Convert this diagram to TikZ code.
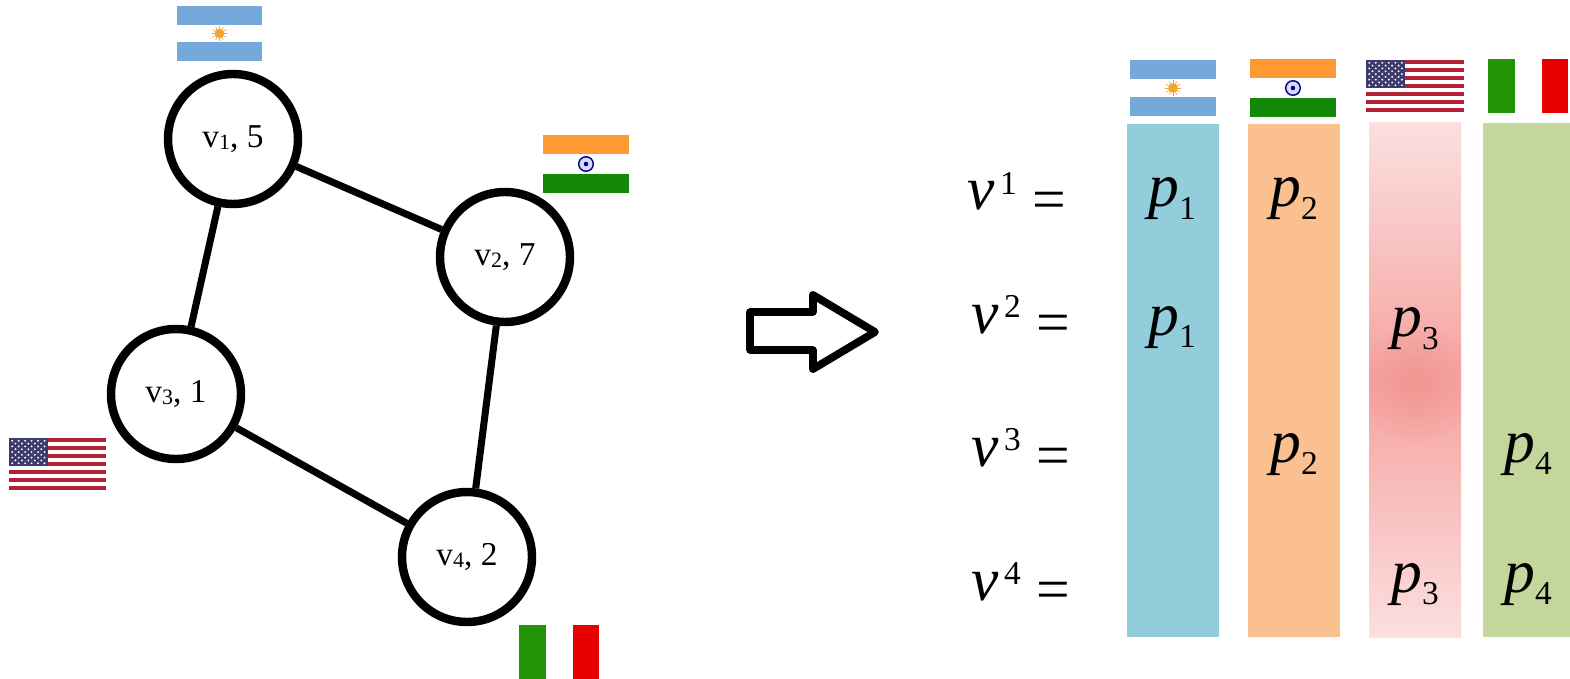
\documentclass[tikz,border=0pt]{standalone}
\usepackage{fontspec}
\setmainfont{Liberation Serif}
\usetikzlibrary{fadings}
\definecolor{arblue}{RGB}{117,169,219}
\definecolor{arsun}{RGB}{240,165,50}
\definecolor{insaffron}{RGB}{255,153,51}
\definecolor{ingreen}{RGB}{19,136,8}
\definecolor{usred}{RGB}{178,34,52}
\definecolor{usblue}{RGB}{60,59,110}
\definecolor{itgreen}{RGB}{34,148,5}
\definecolor{itred}{RGB}{230,0,0}
\definecolor{colblue}{RGB}{146,205,220}
\definecolor{colorange}{RGB}{250,192,144}
\definecolor{colgreen}{RGB}{195,214,155}
\definecolor{colpale}{RGB}{251,223,223}
\definecolor{colred}{RGB}{245,163,160}
\definecolor{colcore}{RGB}{242,150,146}
\tikzfading[name=softdisc,inner color=transparent!0,outer color=transparent!100]
\tikzset{
  vertex/.style={draw,circle,line width=4.8pt,minimum size=2.6cm,inner sep=0pt},
  link/.style={line width=4pt},
  vlabel/.style={inner sep=0pt,anchor=base west,font=\fontsize{35}{40}\selectfont},
}
\newcommand{\vname}[2]{\fontsize{19}{23}\selectfont v\raisebox{-1pt}{\fontsize{12.5}{15}\selectfont #1}, #2}
\newcommand{\pname}[1]{\textit{p}\raisebox{-7pt}{\fontsize{19}{23}\selectfont #1}}
\newcommand{\rowname}[1]{\textit{v}\raisebox{9pt}{\fontsize{19}{23}\selectfont\,#1}\hspace{9pt}\raisebox{-5.5pt}{\fontsize{34}{40}\selectfont =}}
% x, y, width, height of the flag
\newcommand{\flagar}[4]{\begin{scope}[shift={(#1,#2)},x=#3*0.02cm,y=-#4*0.02cm]
  \fill[arblue] (0,0) rectangle (1,0.34);
  \fill[arblue] (0,0.66) rectangle (1,1);
  \fill[arsun] (0.5,0.5) circle (0.055 and 0.085);
  \foreach \a in {0,30,...,330}
    \draw[arsun,line width=0.4pt] (0.5,0.5)--++({0.09*cos(\a)},{0.135*sin(\a)});
\end{scope}}
\newcommand{\flagin}[4]{\begin{scope}[shift={(#1,#2)},x=#3*0.02cm,y=-#4*0.02cm]
  \fill[insaffron] (0,0) rectangle (1,0.33);
  \fill[ingreen] (0,0.67) rectangle (1,1);
  \draw[blue!50!black,fill=blue!15,line width=0.8pt] (0.5,0.5) circle (0.085 and 0.125);
  \fill[blue!50!black] (0.5,0.5) circle (0.025 and 0.04);
\end{scope}}
\newcommand{\flagus}[4]{\begin{scope}[shift={(#1,#2)},x=#3*0.02cm,y=-#4*0.02cm]
  \foreach \i in {0,...,6}
    \fill[usred] (0,\i*2/13) rectangle (1,\i*2/13+1/13);
  \fill[usblue] (0,0) rectangle (0.4,7/13);
  \foreach \r in {1,3,5,7,9} \foreach \c in {1,3,5,7,9,11}
    \fill[white] (\c*0.0333,\r*0.054) circle (0.011 and 0.02);
  \foreach \r in {2,4,6,8} \foreach \c in {2,4,6,8,10}
    \fill[white] (\c*0.0333,\r*0.054) circle (0.011 and 0.02);
\end{scope}}
\newcommand{\flagit}[4]{\begin{scope}[shift={(#1,#2)},x=#3*0.02cm,y=-#4*0.02cm]
  \fill[itgreen] (0,0) rectangle (0.34,1);
  \fill[itred] (0.67,0) rectangle (1,1);
\end{scope}}

\begin{document}
\begin{tikzpicture}[x=0.02cm,y=-0.02cm]
  \useasboundingbox (0,0) rectangle (1570,679);
  % graph
  \node[vertex] (v1) at (233,139) {\vname{1}{5}};
  \node[vertex] (v2) at (505,257) {\vname{2}{7}};
  \node[vertex] (v3) at (176,394) {\vname{3}{1}};
  \node[vertex] (v4) at (467,557) {\vname{4}{2}};
  \draw[link] (v1)--(v2);
  \draw[link] (v1)--(v3);
  \draw[link] (v2)--(v4);
  \draw[link] (v3)--(v4);
  \flagar{177}{6}{85}{55}
  \flagin{543}{135}{86}{58}
  \flagus{9}{438}{97}{52}
  \flagit{519}{625}{80}{54}
  % block arrow
  \draw[line width=4.4pt,line join=round] (750,312)--(813,312)--(813,295)--(875,332)--(813,369)--(813,350)--(750,350)--cycle;
  % columns
  \fill[colblue] (1127,124) rectangle (1219,637);
  \fill[colorange] (1248,124) rectangle (1340,637);
  \shade[top color=colpale,bottom color=colpale,middle color=colred] (1369,123) rectangle (1461,637);
  \begin{scope}
    \clip (1369,123) rectangle (1461,637);
    \fill[colcore,path fading=softdisc] (1415,383) circle (60);
  \end{scope}
  \fill[colgreen] (1483,123) rectangle (1570,637);
  \flagar{1130}{60}{86}{56}
  \flagin{1250}{59}{86}{58}
  \flagus{1366}{60}{98}{52}
  \flagit{1488}{59}{80}{54}
  % row labels
  \foreach \n/\x/\y in {1/967/210,2/971/333,3/971/466,4/971/600}
    \node[vlabel] (r\n) at (\x,\y) {\rowname{\n}};
  \foreach \t/\n/\x/\y in {a/1/1148/207,b/1/1148/335,c/2/1270/207,d/2/1270/462,e/3/1391/337,f/3/1391/592,g/4/1504/462,h/4/1504/592}
    \node[vlabel] (p\t) at (\x,\y) {\pname{\n}};
\end{tikzpicture}
\end{document}
